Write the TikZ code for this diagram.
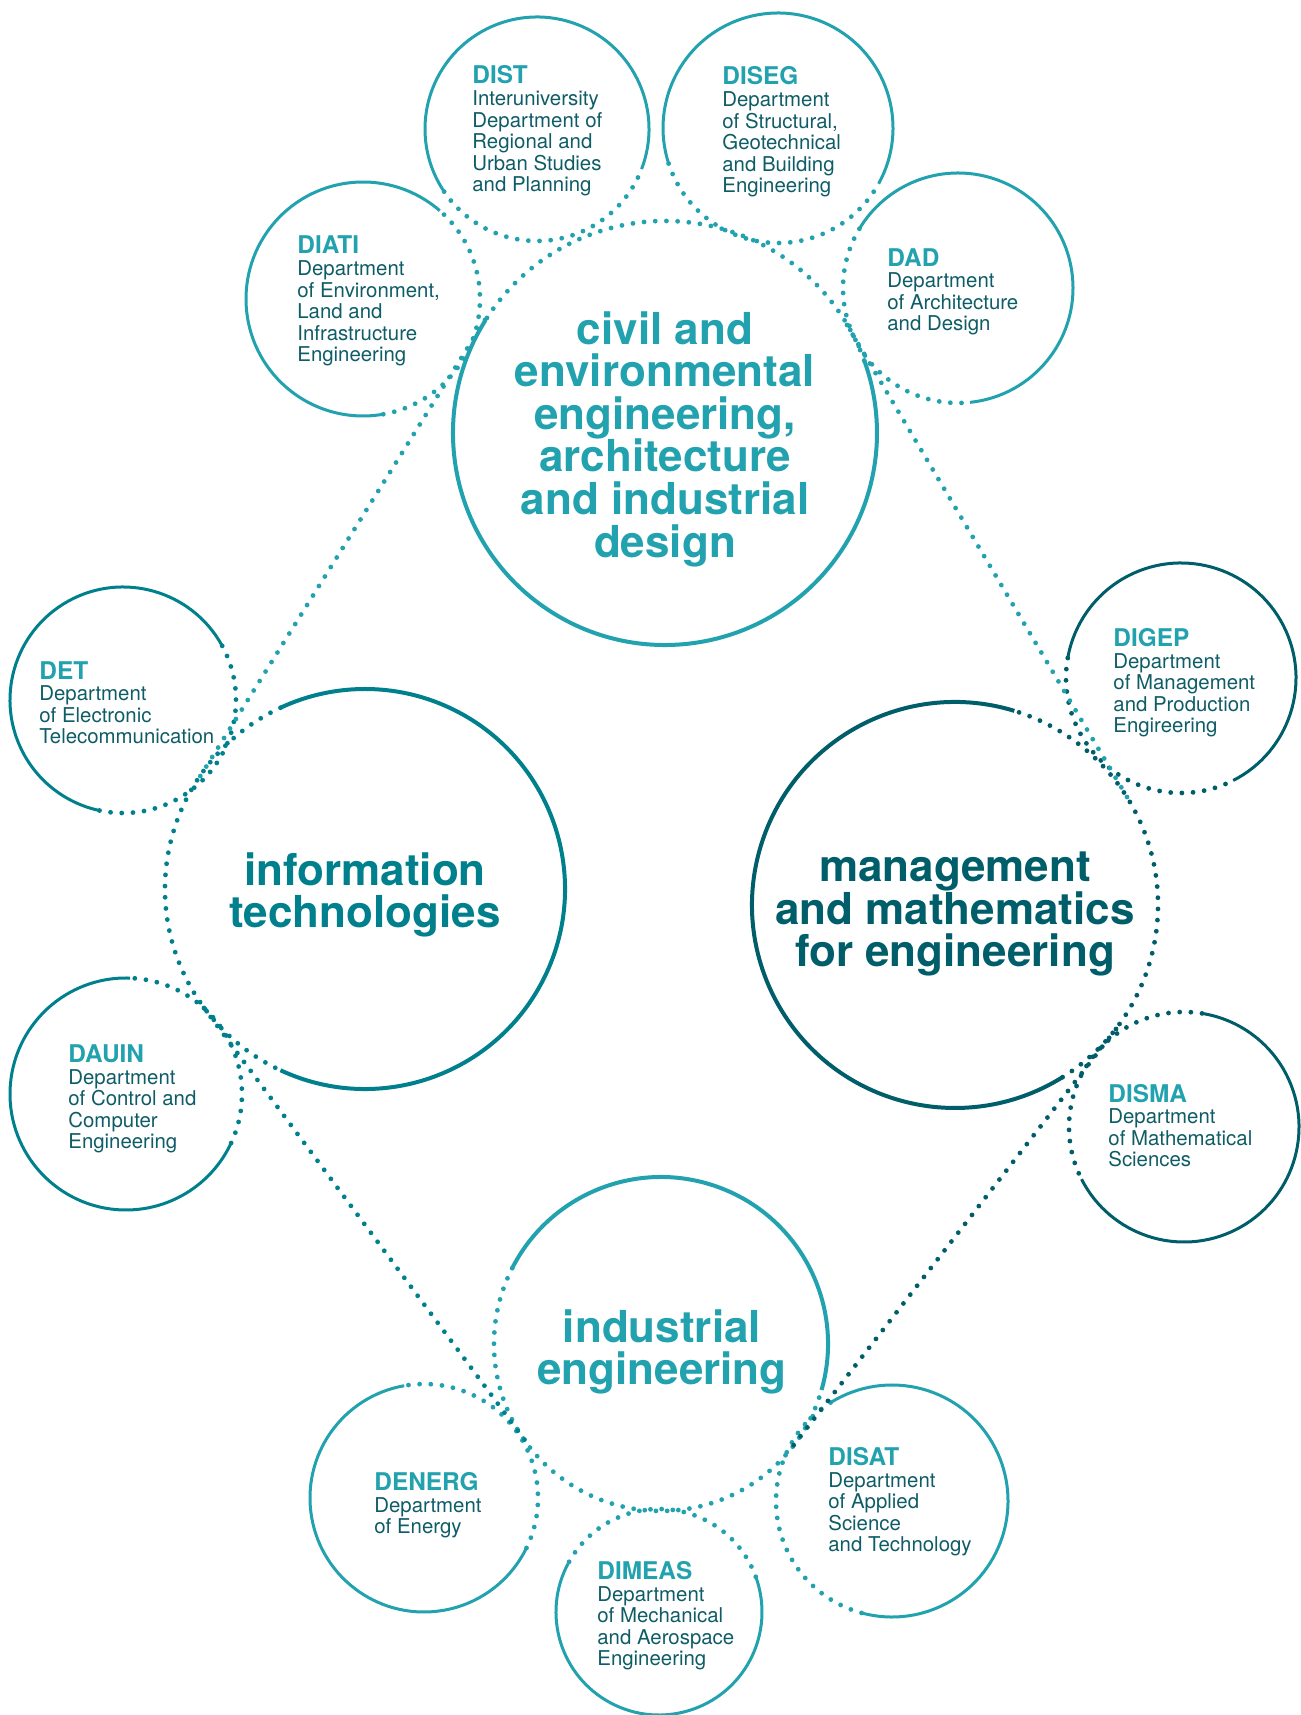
\documentclass[tikz,border=0pt]{standalone}
\usepackage{fontspec}
\setmainfont{TeX Gyre Heros}
\definecolor{civilc}{RGB}{34,161,174}
\definecolor{infoc}{RGB}{0,128,140}
\definecolor{mgmtc}{RGB}{0,94,106}
\definecolor{txtc}{RGB}{14,92,102}
\newcommand{\acr}[1]{{\fontsize{12.2}{10.8}\selectfont\bfseries\color{civilc}#1}}
\tikzset{
  dotarc/.style={line width=2.4pt, line cap=round, dash pattern=on 0pt off 5.6pt},
  bigname/.style={font=\fontsize{22}{21.3}\selectfont\bfseries, align=center, inner sep=0pt},
  deptname/.style={font=\fontsize{10.2}{10.8}\selectfont, text=txtc, align=left, anchor=base west, inner sep=0pt},
}
\begin{document}
\begin{tikzpicture}[x=0.5pt, y=0.5pt]
  \useasboundingbox (0,0) rectangle (1301,1715);
  % centres
  \coordinate (civil) at (665,1282);
  \coordinate (info) at (365,826);
  \coordinate (mgmt) at (955,810);
  \coordinate (ind) at (661,371);
  \coordinate (dist) at (537,1586);
  \coordinate (diseg) at (778,1587);
  \coordinate (dad) at (958,1427);
  \coordinate (diati) at (363,1416);
  \coordinate (det) at (123,1015);
  \coordinate (dauin) at (126,621);
  \coordinate (digep) at (1181,1037);
  \coordinate (disma) at (1184,588);
  \coordinate (denerg) at (424,217);
  \coordinate (dimeas) at (659,103);
  \coordinate (disat) at (892,214);
  % rings: solid part, then dotted part
  \foreach \cn/\rad/\from/\to/\col/\lw in {civil/212/20/148/civilc/2pt, info/200/115/245/infoc/2pt,
      mgmt/203/-58/73/mgmtc/2pt, ind/167/153/344/civilc/2pt,
      dist/112/214/339/civilc/1.5pt, diseg/115/198/331/civilc/1.5pt, dad/115/149/276/civilc/1.5pt,
      diati/117/-80/49/civilc/1.5pt, det/113/-102/29/infoc/1.5pt, dauin/116/-25/88/infoc/1.5pt,
      digep/115/170/297/mgmtc/1.5pt, disma/115/81/207/mgmtc/1.5pt, denerg/114/-26/100/civilc/1.5pt,
      dimeas/103/20/152/civilc/1.5pt, disat/116/122/255/civilc/1.5pt}{
    \draw[color=\col, line width=\lw] (\cn) ++(\to:\rad) arc[start angle=\to, end angle=\from+360, radius=\rad];
    \draw[color=\col, dotarc] (\cn) ++(\from:\rad) arc[start angle=\from, end angle=\to, radius=\rad];
  }
  % tangents between the big rings
  \coordinate (civilNW) at (485,1395);
  \coordinate (infoNW) at (196,932);
  \coordinate (infoSW) at (204,707);
  \coordinate (indSW) at (527,272);
  \coordinate (civilNE) at (847,1390);
  \coordinate (mgmtNE) at (1130,913);
  \coordinate (mgmtSE) at (1116,686);
  \coordinate (indSE) at (793,269);
  \draw[civilc, dotarc] (civilNW) -- (infoNW);
  \draw[infoc, dotarc] (infoSW) -- (indSW);
  \draw[civilc, dotarc] (civilNE) -- (mgmtNE);
  \draw[mgmtc, dotarc] (mgmtSE) -- (indSE);

  \node[bigname, text=civilc] (civiltext) at (665,1276) {civil and\\environmental\\engineering,\\architecture\\and industrial\\design};
  \node[bigname, text=infoc] (infotext) at (365,820) {information\\technologies};
  \node[bigname, text=mgmtc] (mgmttext) at (955,801) {management\\and mathematics\\for engineering};
  \node[bigname, text=civilc] (indtext) at (662,363) {industrial\\engineering};

  % anchors sit on the last line
  \node[deptname] (distname) at (472,1523) {\acr{DIST}\\Interuniversity\\Department of\\Regional and\\Urban Studies\\and Planning};
  \node[deptname] (disegname) at (722,1522) {\acr{DISEG}\\Department\\of Structural,\\Geotechnical\\and Building\\Engineering};
  \node[deptname] (dadname) at (887,1384) {\acr{DAD}\\Department\\of Architecture\\and Design};
  \node[deptname] (diatiname) at (297,1353) {\acr{DIATI}\\Department\\of Environment,\\Land and\\Infrastructure\\Engineering};
  \node[deptname] (detname) at (39,971) {\acr{DET}\\Department\\of Electronic\\Telecommunication};
  \node[deptname] (dauinname) at (68,566) {\acr{DAUIN}\\Department\\of Control and\\Computer\\Engineering};
  \node[deptname] (digepname) at (1113,982) {\acr{DIGEP}\\Department\\of Management\\and Production\\Engireering};
  \node[deptname] (dismaname) at (1108,548) {\acr{DISMA}\\Department\\of Mathematical\\Sciences};
  \node[deptname] (denergname) at (374,181) {\acr{DENERG}\\Department\\of Energy};
  \node[deptname] (dimeasname) at (597,49) {\acr{DIMEAS}\\Department\\of Mechanical\\and Aerospace\\Engineering};
  \node[deptname] (disatname) at (828,163) {\acr{DISAT}\\Department\\of Applied\\Science\\and Technology};
\end{tikzpicture}
\end{document}
